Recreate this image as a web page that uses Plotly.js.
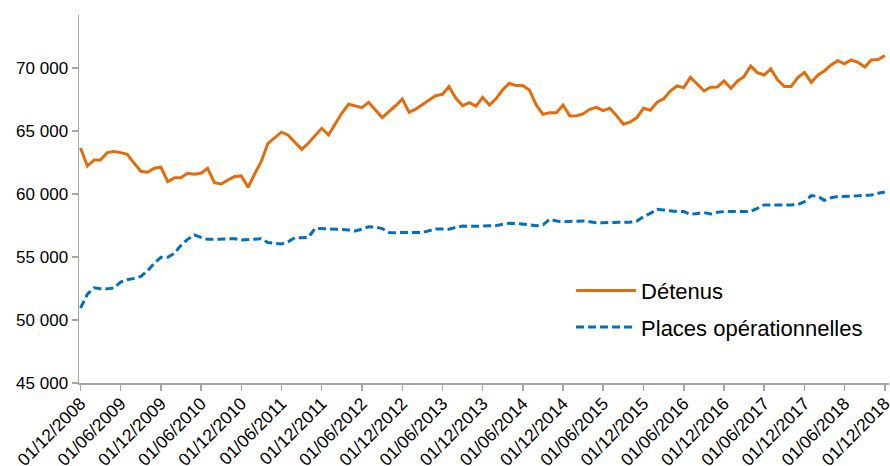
<!DOCTYPE html>
<html>
<head>
<meta charset="utf-8">
<script src="https://cdn.plot.ly/plotly-3.0.1.min.js"></script>
<style>html,body{margin:0;padding:0;background:#fff;}#chart{width:890px;height:466px;}</style>
</head>
<body>
<div id="chart"></div>
<script>
// Monthly series, 01/12/2008 .. 01/12/2018 (121 months)
var startYear = 2008, startMonth = 12;
var detenus = [
63650,62220,62700,62700,63280,63360,63280,63150,62450,61800,61720,62040,62120,
60980,61290,61290,61640,61560,61640,62040,60900,60790,61110,61380,61430,
60530,61640,62560,64020,64420,64900,64680,64070,63540,64020,64600,65210,
64680,65600,66400,67120,66980,66850,67280,66670,66060,66530,67000,67540,
66480,66750,67100,67460,67800,67910,68520,67590,67010,67250,66980,67670,
67060,67590,68250,68780,68600,68600,68250,67060,66320,66450,66450,67060,
66190,66210,66350,66720,66870,66610,66800,66200,65530,65690,66060,66800,
66640,67280,67540,68170,68570,68440,69250,68730,68170,68470,68490,68970,
68380,68970,69310,70160,69630,69440,69920,69050,68520,68520,69230,69650,
68860,69440,69760,70240,70580,70320,70630,70450,70080,70630,70660,70980
];
var places = [
50950,52050,52550,52480,52470,52550,53000,53200,53300,53450,53900,54500,54970,
54970,55300,55900,56400,56750,56560,56400,56400,56420,56430,56450,56350,
56400,56450,56450,56150,56100,56030,56200,56530,56530,56550,57280,57250,
57220,57200,57200,57150,57060,57200,57400,57380,57250,56950,56930,56950,
56950,56950,56930,57050,57220,57220,57200,57350,57460,57440,57430,57450,
57470,57490,57600,57670,57650,57620,57550,57480,57550,57990,57850,57800,
57820,57840,57860,57800,57720,57720,57720,57720,57720,57760,57850,58200,
58460,58780,58720,58650,58600,58600,58380,58450,58520,58410,58550,58600,
58600,58600,58600,58620,58860,59130,59130,59120,59130,59130,59150,59390,
59870,59800,59500,59700,59790,59800,59840,59850,59900,59920,60050,60150
];
var tickLabels = [
'01/12/2008','01/06/2009','01/12/2009','01/06/2010','01/12/2010','01/06/2011',
'01/12/2011','01/06/2012','01/12/2012','01/06/2013','01/12/2013','01/06/2014',
'01/12/2014','01/06/2015','01/12/2015','01/06/2016','01/12/2016','01/06/2017',
'01/12/2017','01/06/2018','01/12/2018'
];
var seriesNames = ['Détenus', 'Places opérationnelles'];

function pad(n){return (n<10?'0':'')+n;}
var months = [];
for (var k = 0; k < detenus.length; k++) {
  var m = startMonth - 1 + k;
  var y = startYear + Math.floor(m / 12);
  months.push(y + '-' + pad(m % 12 + 1) + '-01');
}
var tickVals = tickLabels.map(function(s){var p=s.split('/');return p[2]+'-'+p[1]+'-'+p[0];});

var font = 'Liberation Sans, Arial, sans-serif';
var traces = [
  {x: months, y: detenus, name: seriesNames[0], type: 'scatter', mode: 'lines',
   line: {color: '#E46C0A', width: 3}, legendgroup: 'a'},
  {x: months, y: places, name: seriesNames[1], type: 'scatter', mode: 'lines',
   line: {color: '#0070C0', width: 3, dash: '8px,4px'}, legendgroup: 'b'}
];
var axisColor = '#A6A6A6';
var layout = {
  width: 890, height: 466,
  margin: {l: 79, r: 1, t: 15, b: 83},
  paper_bgcolor: '#fff', plot_bgcolor: '#fff',
  separators: ', ',
  font: {family: font, color: '#000', size: 17},
  showlegend: true,
  legend: {x: 0.6075, y: 0.308, xanchor: 'left', yanchor: 'top',
           font: {family: font, size: 22, color: '#000'},
           bgcolor: 'rgba(0,0,0,0)', tracegroupgap: 5, itemwidth: 60},
  xaxis: {type: 'date', range: ['2008-11-24', '2018-12-20'],
          tickvals: tickVals, ticktext: tickLabels, tickangle: -45,
          ticklabeloverflow: 'allow', ticklabelstandoff: -4,
          showgrid: false, zeroline: false, showline: true, linecolor: axisColor, linewidth: 1.5,
          ticks: 'outside', ticklen: 6, tickcolor: axisColor, tickwidth: 1.5,
          tickfont: {family: font, size: 17.5, color: '#000'}, fixedrange: true},
  yaxis: {range: [45000, 74200], tick0: 45000, dtick: 5000, tickformat: ',d',
          showgrid: false, zeroline: false, showline: true, linecolor: axisColor, linewidth: 1.5,
          ticks: 'outside', ticklen: 6, tickcolor: axisColor, tickwidth: 1.5,
          tickfont: {family: font, size: 17, color: '#000'}, fixedrange: true}
};
Plotly.newPlot('chart', traces, layout, {displayModeBar: false, staticPlot: true});
</script>
</body>
</html>
